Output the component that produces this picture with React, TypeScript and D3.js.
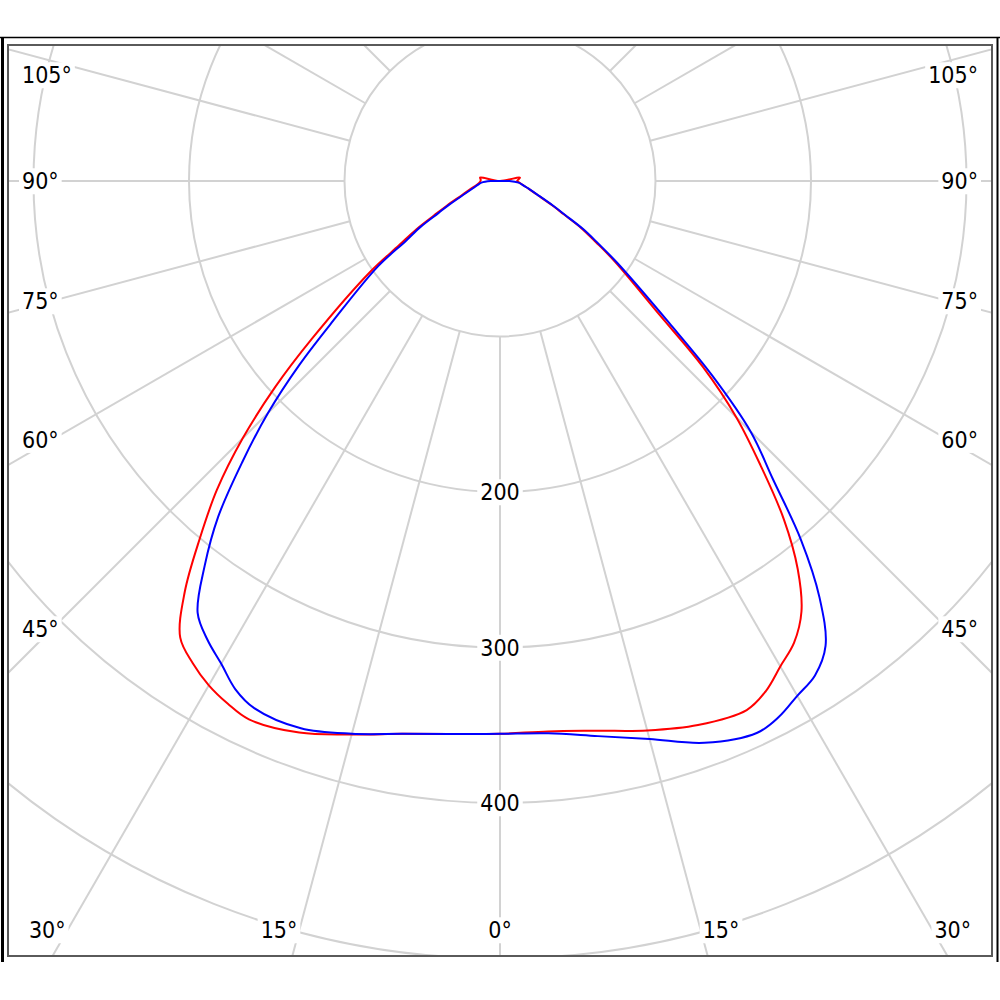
import React, { useEffect, useRef } from 'react';
import * as d3 from 'd3';

// gamma angles (degrees from nadir) of the measured points
const ANGLES = [0, 5, 10, 15, 20, 25, 27.5, 30, 32.5, 35, 37.5, 40, 42.5, 45, 47.5, 50, 55, 57.5, 60, 62.5, 65, 70, 75, 80, 85, 90, 95, 100, 105];

// C0-C180 plane (red): left half, right half
const RED_LEFT = [355.5, 357, 361, 368.5, 377.5, 382, 379, 374.5, 367.7, 358.5, 333, 300.5, 269.5, 234, 196, 158, 102, 77, 62, 47.5, 38, 25.5, 19.5, 15.5, 13.5, 12.5, 12.5, 13, 0];
const RED_RIGHT = [355.5, 355.3, 359, 365.8, 372.3, 375.4, 370, 360.5, 352, 338, 314.5, 284, 248, 215, 177, 134, 90, 73, 60, 46, 37, 25, 19, 15, 12.5, 11, 12, 13, 0];

// C90-C270 plane (blue)
const BLUE_LEFT = [355.5, 357, 361, 368, 374.5, 374, 368.5, 358.5, 350, 339, 312, 282, 245.5, 211, 175, 140.5, 96, 72, 59, 44.7, 36, 24, 18, 14.5, 12, 6, 0, 0, 0];
const BLUE_RIGHT = [355.5, 356.5, 362.5, 371.5, 384.5, 391.5, 388.5, 382.3, 377, 365, 337.5, 301, 259.5, 228, 185, 142, 92.5, 75, 61.5, 47, 38, 25.5, 19, 15, 12, 6, 0, 0, 0];

const RINGS = [100, 200, 300, 400, 500, 600, 700];
const RING_LABELS = [200, 300, 400];
const SPOKES = [0, 15, 30, 45, 60, 75, 90, 105, 120, 135, 150, 165, 180];
const ANGLE_LABELS = [0, 15, 30, 45, 60, 75, 90, 105];

const CX = 500, CY = 181;
const GRID = '#d2d2d2';
const FONT = '"DejaVu Sans Condensed", "Liberation Sans", sans-serif';

export default function App() {
  const ref = useRef<SVGSVGElement>(null);

  useEffect(() => {
    const svg = d3.select(ref.current);
    svg.selectAll('*').remove();

    const r = d3.scaleLinear().domain([0, 100]).range([0, 155.5]);
    const pt = (deg: number, v: number, side: number): [number, number] => {
      const a = (deg * Math.PI) / 180;
      return [CX + side * r(v) * Math.sin(a), CY + r(v) * Math.cos(a)];
    };

    svg.append('defs').append('clipPath').attr('id', 'plot-clip')
      .append('rect').attr('x', 8).attr('y', 45).attr('width', 984).attr('height', 911);

    const g = svg.append('g').attr('clip-path', 'url(#plot-clip)');

    // rings
    g.selectAll('circle.ring').data(RINGS).join('circle')
      .attr('class', 'ring')
      .attr('cx', CX).attr('cy', CY)
      .attr('r', d => r(d))
      .attr('fill', 'none')
      .attr('stroke', GRID)
      .attr('stroke-width', 2);

    // spokes, from the first ring outward
    SPOKES.forEach(deg => {
      [-1, 1].forEach(side => {
        const [x1, y1] = pt(deg, RINGS[0], side);
        const [x2, y2] = pt(deg, 900, side);
        g.append('line')
          .attr('x1', x1).attr('y1', y1).attr('x2', x2).attr('y2', y2)
          .attr('stroke', GRID).attr('stroke-width', 2);
      });
    });

    // labels with white boxes
    const labels = g.append('g');
    const addLabel = (x: number, y: number, text: string, anchor: string) => {
      const lg = labels.append('g');
      const rect = lg.append('rect').attr('fill', '#fff');
      const t = lg.append('text')
        .attr('x', x).attr('y', y).attr('dy', '0.36em')
        .attr('text-anchor', anchor)
        .style('font-family', FONT)
        .style('font-size', '23px')
        .attr('fill', '#000')
        .text(text);
      const b = (t.node() as SVGTextElement).getBBox();
      rect.attr('x', b.x - 3).attr('y', b.y).attr('width', b.width + 6).attr('height', b.height);
    };

    RING_LABELS.forEach(v => addLabel(CX, CY + r(v), String(v), 'middle'));

    ANGLE_LABELS.forEach(deg => {
      if (deg === 0) {
        addLabel(CX, 930, '0°', 'middle');
        return;
      }
      const a = (deg * Math.PI) / 180;
      [-1, 1].forEach(side => {
        const ySide = CY + (448 / Math.sin(a)) * Math.cos(a);
        if (ySide <= 930) {
          addLabel(side < 0 ? 22 : 978, Math.max(75, ySide), `${deg}°`, side < 0 ? 'start' : 'end');
        } else {
          const t = (930 - CY) / Math.cos(a);
          const x = CX + side * t * Math.sin(a) + side * 2;
          addLabel(x, 930, `${deg}°`, side < 0 ? 'end' : 'start');
        }
      });
    });

    // curves: left half from nadir upward, then right half back down
    const loop = (left: number[], right: number[]) => {
      const pts: [number, number][] = [];
      ANGLES.forEach((deg, i) => pts.push(pt(deg, left[i], -1)));
      for (let i = ANGLES.length - 2; i >= 1; i--) pts.push(pt(ANGLES[i], right[i], 1));
      return pts.filter((p, i) => {
        const q = pts[(i - 1 + pts.length) % pts.length];
        return Math.hypot(p[0] - q[0], p[1] - q[1]) > 0.01;
      });
    };
    const line = d3.line().curve(d3.curveCatmullRomClosed.alpha(0.5));

    g.append('path').attr('d', line(loop(RED_LEFT, RED_RIGHT)))
      .attr('fill', 'none').attr('stroke', '#ff0000').attr('stroke-width', 2);
    g.append('path').attr('d', line(loop(BLUE_LEFT, BLUE_RIGHT)))
      .attr('fill', 'none').attr('stroke', '#0000ff').attr('stroke-width', 2);

    // frame
    svg.append('rect').attr('x', 8).attr('y', 45).attr('width', 984).attr('height', 911)
      .attr('fill', 'none').attr('stroke', '#5a5a5a').attr('stroke-width', 2);
    svg.append('line').attr('x1', 0).attr('y1', 37.5).attr('x2', 1000).attr('y2', 37.5)
      .attr('stroke', '#000').attr('stroke-width', 1.5);
    svg.append('line').attr('x1', 2.5).attr('y1', 37).attr('x2', 2.5).attr('y2', 962)
      .attr('stroke', '#000').attr('stroke-width', 3);
    svg.append('line').attr('x1', 997.5).attr('y1', 37).attr('x2', 997.5).attr('y2', 962)
      .attr('stroke', '#000').attr('stroke-width', 2);
  }, []);

  return (
    <div style={{ position: 'absolute', left: 0, top: 0 }}>
      <svg ref={ref} width={1000} height={1000} style={{ display: 'block', background: '#fff' }}></svg>
    </div>
  );
}
